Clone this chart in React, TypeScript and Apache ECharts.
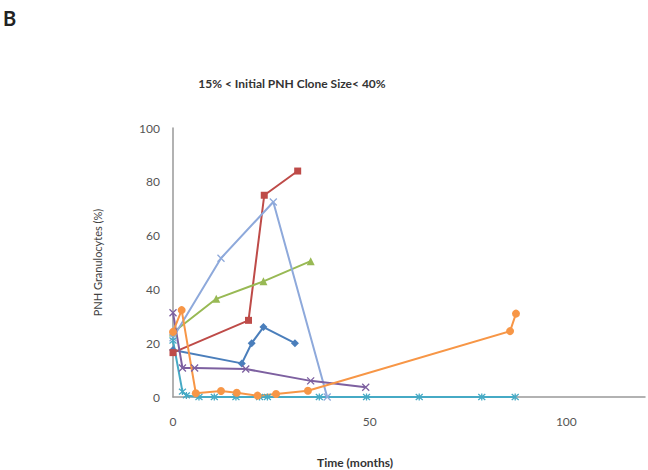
import React, { useEffect, useRef } from "react";
import * as echarts from "echarts";

const blueData: number[][] = [[0, 17.5], [17.5, 12.5], [20, 20], [23, 26], [31, 20]];
const redData: number[][] = [[0, 16.5], [19.2, 28.5], [23.2, 75], [31.7, 84]];
const greenData: number[][] = [[0, 24], [11, 36.5], [23, 43], [35, 50.5]];
const lightBlueData: number[][] = [[0, 22], [12.2, 51.6], [25.5, 72.5], [39.2, 0]];
const purpleData: number[][] = [[0, 31.3], [2.4, 10.8], [5.5, 10.8], [18.5, 10.4], [35, 6], [49, 3.6]];
const aquaData: number[][] = [[0, 21], [2.4, 2], [3.4, 0.6], [6.6, 0], [10.5, 0], [16, 0], [22, 0], [24, 0], [37.2, 0], [49.2, 0], [62.6, 0], [78.5, 0], [87, 0]];
const orangeData: number[][] = [[0, 24.2], [2.2, 32.3], [5.8, 1.4], [12.2, 2.2], [16.2, 1.6], [21.5, 0.5], [26.2, 1.1], [34.3, 2.3], [85.7, 24.5], [87.2, 31]];

const yTicks = [0, 20, 40, 60, 80, 100];
const xTicks = [0, 50, 100];

const titleText = "15% < Initial PNH Clone Size< 40%";
const xName = "Time (months)";
const yName = "PNH Granulocytes (%)";

const X_SYMBOL = "path://M0,0L10,10M10,0L0,10";
const STAR_SYMBOL = "path://M0,0L10,10M10,0L0,10M5,-1L5,11";

function mk(name: string, data: number[][], color: string, symbol: string, size: number, cross = false) {
  return {
    name,
    type: "line",
    data,
    symbol,
    symbolSize: size,
    showSymbol: true,
    lineStyle: { color, width: 2 },
    itemStyle: cross
      ? { color: "rgba(0,0,0,0)", borderColor: color, borderWidth: 1.3 }
      : { color, borderColor: color, borderWidth: 0 },
    emphasis: { disabled: true },
    z: 2,
  };
}

export default function App() {
  const ref = useRef<HTMLDivElement>(null);
  useEffect(() => {
    if (!ref.current) return;
    const chart = echarts.init(ref.current, null, { renderer: "svg" });
    chart.setOption({
      animation: false,
      backgroundColor: "#ffffff",
      textStyle: { fontFamily: "Lato" },
      grid: { left: 173, top: 128, right: 3, bottom: 73, containLabel: false },
      xAxis: {
        type: "value",
        min: xTicks[0],
        max: 120,
        interval: xTicks[1] - xTicks[0],
        axisLine: { show: true, lineStyle: { color: "#999", width: 1.5 } },
        axisTick: { show: false },
        splitLine: { show: false },
        axisLabel: { color: "#555", fontSize: 12, margin: 18, showMaxLabel: false, fontFamily: "Lato" },
      },
      yAxis: {
        type: "value",
        min: yTicks[0],
        max: yTicks[yTicks.length - 1],
        interval: yTicks[1] - yTicks[0],
        name: yName,
        nameLocation: "middle",
        nameGap: 70,
        nameRotate: 90,
        nameTextStyle: { color: "#404040", fontSize: 11, fontFamily: "Lato" },
        axisLine: { show: true, lineStyle: { color: "#999", width: 1.5 } },
        axisTick: { show: false },
        splitLine: { show: false },
        axisLabel: { color: "#555", fontSize: 12, margin: 13, fontFamily: "Lato" },
      },
      graphic: [
        {
          type: "text",
          left: 3,
          top: 8,
          style: { text: "B", font: "bold 20px Lato", fill: "#222" },
        },
        {
          type: "text",
          x: 292,
          y: 83,
          style: { text: titleText, font: "bold 12px Lato", fill: "#333", align: "center", verticalAlign: "middle" },
        },
        {
          type: "text",
          x: 355,
          y: 462,
          style: { text: xName, font: "bold 12px Lato", fill: "#333", align: "center", verticalAlign: "middle" },
        },
      ],
      series: [
        mk("s1", blueData, "#4A7EBB", "diamond", 8),
        mk("s2", redData, "#BE4B48", "rect", 7),
        mk("s3", greenData, "#98B954", "triangle", 8),
        mk("s4", lightBlueData, "#8EA9DB", X_SYMBOL, 7, true),
        mk("s5", purpleData, "#7D60A0", X_SYMBOL, 7, true),
        mk("s6", aquaData, "#46AAC5", STAR_SYMBOL, 7, true),
        mk("s7", orangeData, "#F79646", "circle", 8),
      ],
    });
    return () => chart.dispose();
  }, []);
  return (
    <div
      ref={ref}
      style={{ position: "fixed", left: 0, top: 0, width: 648, height: 470, background: "#fff" }}
    />
  );
}
